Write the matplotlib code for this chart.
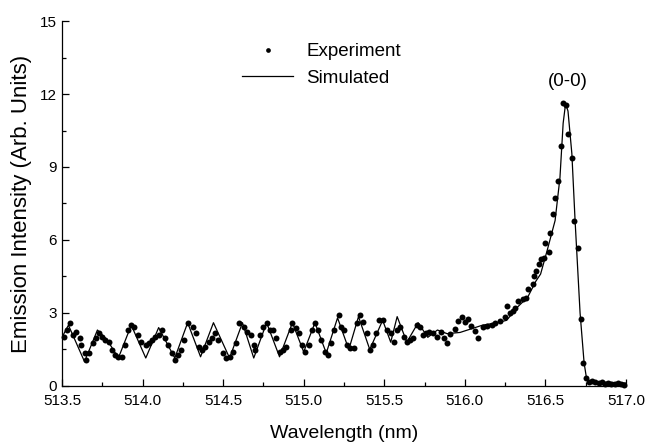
import matplotlib.pyplot as plt
from matplotlib.lines import Line2D
from matplotlib.ticker import MultipleLocator

plt.rcParams['font.family'] = ['Liberation Sans', 'DejaVu Sans']

# Espectro medido (pontos)
exp_x = [
    513.51, 513.53, 513.55, 513.57, 513.59, 513.61, 513.62, 513.64, 513.65, 513.67,
    513.69, 513.71, 513.73, 513.75, 513.77, 513.79, 513.81, 513.83, 513.85, 513.87,
    513.89, 513.91, 513.93, 513.95, 513.97, 513.99, 514.02, 514.04, 514.06, 514.08,
    514.10, 514.12, 514.14, 514.16, 514.18, 514.20, 514.22, 514.24, 514.26, 514.28,
    514.31, 514.33, 514.35, 514.37, 514.39, 514.41, 514.43, 514.45, 514.47, 514.50,
    514.52, 514.54, 514.56, 514.58, 514.60, 514.63, 514.65, 514.67, 514.69, 514.70,
    514.73, 514.75, 514.77, 514.79, 514.81, 514.83, 514.85, 514.87, 514.89, 514.92,
    514.93, 514.95, 514.97, 514.99, 515.01, 515.03, 515.05, 515.07, 515.09, 515.11,
    515.13, 515.15, 515.17, 515.19, 515.22, 515.23, 515.25, 515.27, 515.29, 515.31,
    515.33, 515.35, 515.37, 515.39, 515.41, 515.43, 515.45, 515.47, 515.49, 515.52,
    515.54, 515.56, 515.58, 515.60, 515.62, 515.64, 515.66, 515.68, 515.70, 515.72,
    515.74, 515.76, 515.78, 515.80, 515.83, 515.85, 515.87, 515.89, 515.91, 515.94,
    515.96, 515.98, 516.00, 516.02, 516.04, 516.06, 516.08, 516.11, 516.14, 516.17,
    516.19, 516.22, 516.25, 516.26, 516.28, 516.30, 516.31, 516.33, 516.36, 516.38,
    516.39, 516.42, 516.43, 516.44, 516.46, 516.47, 516.49, 516.50, 516.52, 516.53,
    516.55, 516.56, 516.58, 516.595, 516.608, 516.625, 516.64, 516.665, 516.68, 516.70,
    516.72, 516.735, 516.75, 516.77, 516.79, 516.81, 516.83, 516.85, 516.87, 516.89,
    516.91, 516.93, 516.95, 516.97, 516.99,
]
exp_y = [
    2.03, 2.30, 2.58, 2.10, 2.23, 1.96, 1.69, 1.34, 1.07, 1.36,
    1.77, 1.97, 2.18, 2.03, 1.89, 1.82, 1.48, 1.27, 1.20, 1.20,
    1.69, 2.30, 2.51, 2.44, 2.10, 1.82, 1.69, 1.75, 1.89, 2.03,
    2.10, 2.30, 1.96, 1.69, 1.34, 1.07, 1.27, 1.48, 1.89, 2.58,
    2.44, 2.17, 1.62, 1.48, 1.62, 1.82, 1.96, 2.17, 1.89, 1.34,
    1.14, 1.20, 1.41, 1.75, 2.58, 2.44, 2.23, 2.10, 1.69, 1.48,
    2.10, 2.44, 2.58, 2.30, 2.30, 1.96, 1.41, 1.48, 1.62, 2.30,
    2.58, 2.37, 2.17, 1.69, 1.41, 1.69, 2.30, 2.58, 2.30, 1.89,
    1.41, 1.27, 1.75, 2.30, 2.92, 2.44, 2.30, 1.69, 1.55, 1.55,
    2.58, 2.92, 2.65, 2.17, 1.48, 1.69, 2.17, 2.71, 2.71, 2.30,
    2.17, 1.82, 2.30, 2.44, 2.03, 1.82, 1.89, 1.96, 2.51, 2.44,
    2.10, 2.17, 2.23, 2.17, 2.03, 2.23, 1.96, 1.77, 2.14, 2.34,
    2.67, 2.84, 2.63, 2.75, 2.47, 2.26, 1.97, 2.42, 2.47, 2.51,
    2.59, 2.67, 2.84, 3.29, 3.00, 3.08, 3.21, 3.49, 3.58, 3.62,
    3.99, 4.19, 4.52, 4.73, 5.00, 5.22, 5.26, 5.88, 5.51, 6.29,
    7.07, 7.73, 8.43, 9.85, 11.62, 11.55, 10.36, 9.37, 6.78, 5.67,
    2.75, 0.95, 0.33, 0.15, 0.20, 0.15, 0.12, 0.15, 0.10, 0.12,
    0.10, 0.08, 0.12, 0.10, 0.05,
]

# Espectro simulado (linha)
sim_x = [
    513.50, 513.54, 513.64, 513.72, 513.78, 513.85, 513.93, 514.02, 514.10, 514.20,
    514.28, 514.36, 514.44, 514.54, 514.62, 514.69, 514.77, 514.85, 514.93, 515.00,
    515.07, 515.14, 515.21, 515.28, 515.34, 515.41, 515.49, 515.54, 515.58, 515.64,
    515.71, 515.77, 515.83, 515.89, 515.97, 516.04, 516.11, 516.20, 516.26, 516.32,
    516.39, 516.44, 516.47, 516.51, 516.56, 516.59, 516.61, 516.625, 516.64, 516.664,
    516.684, 516.715, 516.74, 516.757, 516.80, 516.90, 517.00,
]
sim_y = [
    2.00, 2.50, 1.00, 2.30, 1.90, 1.15, 2.50, 1.15, 2.40, 1.15,
    2.60, 1.20, 2.60, 1.15, 2.60, 1.15, 2.60, 1.20, 2.60, 1.40,
    2.60, 1.35, 2.80, 1.50, 2.85, 1.50, 2.70, 1.80, 2.85, 1.80,
    2.60, 2.00, 2.30, 2.15, 2.20, 2.35, 2.50, 2.60, 2.70, 3.20,
    3.65, 4.30, 4.60, 5.55, 6.80, 8.55, 10.80, 11.60, 11.30, 9.55,
    6.80, 3.00, 0.95, 0.23, 0.15, 0.15, 0.12,
]

fig = plt.figure(figsize=(6.51, 4.47), dpi=100)
ax = fig.add_axes([0.0952, 0.1365, 0.8664, 0.8165])

ax.plot(sim_x, sim_y, color='black', lw=0.9, label='Simulated', zorder=2)
ax.plot(exp_x, exp_y, 'o', color='black', ms=4.3, mew=0, label='Experiment',
        zorder=3, clip_on=False)

ax.set_xlim(513.5, 517.0)
ax.set_ylim(0, 15)
ax.xaxis.set_major_locator(MultipleLocator(0.5))
ax.xaxis.set_minor_locator(MultipleLocator(0.25))
ax.yaxis.set_major_locator(MultipleLocator(3))
ax.yaxis.set_minor_locator(MultipleLocator(1.5))
ax.tick_params(which='both', direction='in', width=0.9, labelsize=11)
ax.tick_params(which='major', length=5)
ax.tick_params(which='minor', length=3)
ax.tick_params(axis='x', pad=6)
ax.xaxis.set_major_formatter(plt.FuncFormatter(lambda v, p: f'{v:.1f}'))
ax.yaxis.set_major_formatter(plt.FuncFormatter(lambda v, p: f'{v:.0f}'))

for s in ('top', 'right'):
    ax.spines[s].set_visible(False)
for s in ('left', 'bottom'):
    ax.spines[s].set_linewidth(0.9)

ax.set_xlabel('Wavelength (nm)', fontsize=14, labelpad=12)
ax.set_ylabel('Emission Intensity (Arb. Units)', fontsize=16, labelpad=6)

ax.text(516.64, 12.15, '(0-0)', fontsize=13.5, ha='center', va='bottom')

handles = [
    Line2D([], [], ls='none', marker='o', ms=3.4, mew=0, color='black'),
    Line2D([], [], color='black', lw=0.9),
]
ax.legend(handles, ['Experiment', 'Simulated'], frameon=False, fontsize=13.5,
          loc='upper left', bbox_to_anchor=(0.303, 0.965), handlelength=2.7,
          handletextpad=0.7, labelspacing=0.5, borderpad=0)

fig.savefig('out.png', dpi=100)
